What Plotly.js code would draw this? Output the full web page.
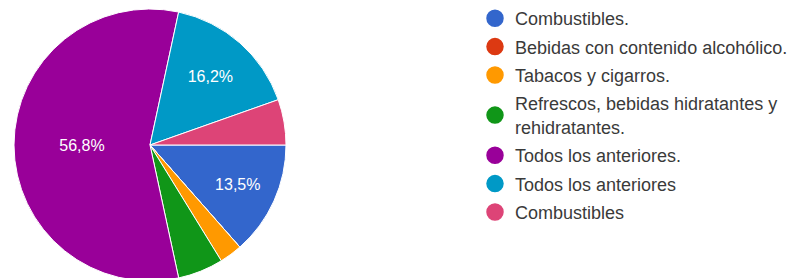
<!DOCTYPE html>
<html>
<head>
<meta charset="utf-8">
<script src="https://cdn.plot.ly/plotly-3.0.1.min.js"></script>
<style>html,body{margin:0;padding:0;overflow:hidden;background:#fff}</style>
</head>
<body>
<div id="chart" style="width:794px;height:284px"></div>
<script>
const labels = [
  'Combustibles.',
  'Bebidas con contenido alcohólico.',
  'Tabacos y cigarros.',
  'Refrescos, bebidas hidratantes y<br>rehidratantes.',
  'Todos los anteriores.',
  'Todos los anteriores',
  'Combustibles'
];
const values = [5, 0, 1, 2, 21, 6, 2];
const colors = ['#3366cc', '#dc3912', '#ff9900', '#109618', '#990099', '#0099c6', '#dd4477'];
const showLabel = [true, false, false, false, true, true, false];

const H = 284;
const pie = {
  type: 'pie',
  labels: labels,
  values: values,
  sort: false,
  direction: 'clockwise',
  rotation: 90,
  marker: {colors: colors, line: {color: '#ffffff', width: 1}},
  texttemplate: showLabel.map(s => s ? '%{percent:.1%}' : ''),
  textposition: 'inside',
  insidetextorientation: 'horizontal',
  textfont: {family: 'Liberation Sans, Arial, sans-serif', size: 16, color: '#ffffff'},
  domain: {x: [14/794, 286/794], y: [3/H, 275/H]},
  showlegend: false,
  hoverinfo: 'label+percent'
};

const legendTraces = labels.map((l, i) => ({
  type: 'scatter',
  mode: 'markers',
  x: [null], y: [null],
  name: l,
  legendgroup: 'g' + i,
  marker: {color: colors[i], size: 16, symbol: 'circle', line: {color: colors[i], width: 1.5}},
  xaxis: 'x', yaxis: 'y',
  hoverinfo: 'skip'
}));

const layout = {
  width: 794, height: H,
  margin: {l: 0, r: 0, t: 0, b: 0},
  paper_bgcolor: '#ffffff',
  plot_bgcolor: '#ffffff',
  separators: ',.',
  xaxis: {visible: false, domain: [0.9, 1]},
  yaxis: {visible: false, domain: [0.9, 1]},
  showlegend: true,
  legend: {
    x: 475/794, xanchor: 'left',
    y: 1, yanchor: 'top',
    traceorder: 'grouped',
    tracegroupgap: 2,
    font: {family: 'Liberation Sans, Arial, sans-serif', size: 18, color: '#3a3a3a'},
    bgcolor: 'rgba(0,0,0,0)'
  }
};

Plotly.newPlot('chart', [pie].concat(legendTraces), layout, {displayModeBar: false, staticPlot: true});
</script>
</body>
</html>
